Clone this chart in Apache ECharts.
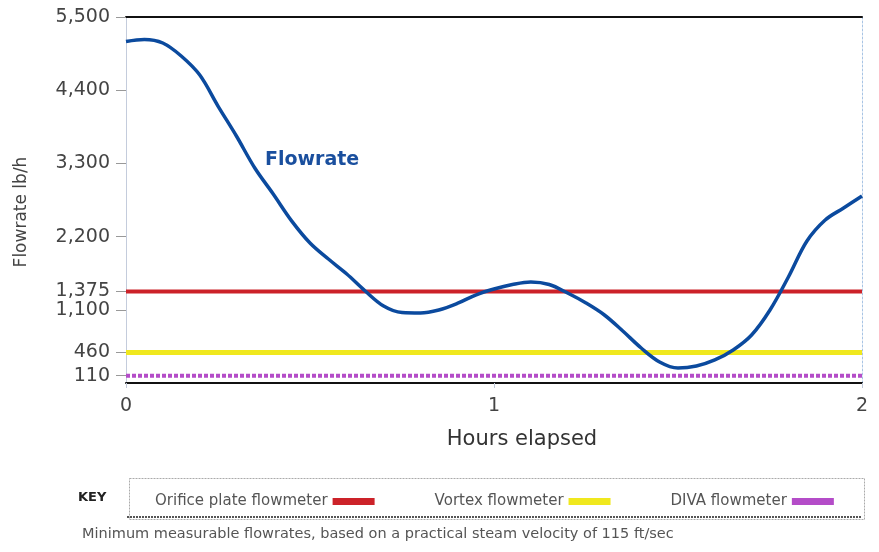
<!DOCTYPE html>
<html>
<head>
<meta charset="utf-8">
<script src="https://cdn.jsdelivr.net/npm/echarts@6/dist/echarts.min.js"></script>
<style>
html,body{margin:0;padding:0;background:#fff;}
#chart{width:879px;height:552px;}
</style>
</head>
<body>
<div id="chart"></div>
<script>
// Flowrate curve: hours elapsed and flowrate (lb/h), read every 0.05 h
const flowHours = [0, 0.05, 0.10, 0.15, 0.20, 0.25, 0.30, 0.35, 0.40, 0.45, 0.50, 0.55, 0.60, 0.65, 0.70, 0.75, 0.80, 0.85, 0.90, 0.95, 1.00, 1.05, 1.10, 1.15, 1.20, 1.25, 1.30, 1.35, 1.40, 1.45, 1.50, 1.55, 1.60, 1.65, 1.70, 1.75, 1.80, 1.85, 1.90, 1.95, 2.00];
const flowValues = [5132, 5162, 5109, 4914, 4631, 4162, 3712, 3231, 2840, 2437, 2104, 1863, 1638, 1383, 1157, 1059, 1052, 1097, 1195, 1322, 1413, 1480, 1518, 1480, 1352, 1202, 1022, 781, 526, 316, 225, 255, 346, 496, 721, 1097, 1593, 2130, 2449, 2630, 2810];

// Minimum measurable flowrates (lb/h)
const meterNames = ['Orifice plate flowmeter', 'Vortex flowmeter', 'DIVA flowmeter'];
const meterMinimums = [1375, 460, 110];
const hoursRange = [0, 2];

// Tick labels
const yTickValues = [110, 460, 1100, 1375, 2200, 3300, 4400, 5500];
const xTickValues = [0, 1, 2];

const FONT = '"DejaVu Sans", Verdana, sans-serif';
const meterColors = ['#cc2229', '#f0e81e', '#b44cc8'];

const chart = echarts.init(document.getElementById('chart'));

const series = [];
meterNames.forEach((name, i) => {
  series.push({
    name: name,
    type: 'line',
    xAxisIndex: 0, yAxisIndex: 0,
    data: hoursRange.map(h => [h, meterMinimums[i]]),
    symbol: 'none',
    silent: true,
    itemStyle: { color: meterColors[i] },
    lineStyle: {
      color: meterColors[i],
      width: i === 0 ? 4 : (i === 1 ? 5 : 4),
      type: i === 2 ? [4, 2] : 'solid'
    },
    z: 3
  });
});
series.push({
  name: 'Flowrate',
  type: 'line',
  xAxisIndex: 0, yAxisIndex: 0,
  data: flowHours.map((h, i) => [h, flowValues[i]]),
  symbol: 'none',
  smooth: 0.35,
  lineStyle: { color: '#0b4a9e', width: 3.5 },
  itemStyle: { color: '#0b4a9e' },
  z: 5
});

const option = {
  animation: false,
  backgroundColor: '#fff',
  grid: { left: 126, right: 17, top: 17, bottom: 169 },
  xAxis: [{
    type: 'value', min: 0, max: 2, interval: 1, position: 'bottom',
    name: 'Hours elapsed', nameLocation: 'middle', nameGap: 46,
    nameTextStyle: { fontFamily: FONT, fontSize: 21, color: '#333', padding: [0, 0, 0, 56] },
    axisLine: { show: true, onZero: false, lineStyle: { color: '#111', width: 2 } },
    axisTick: { show: true, inside: false, length: 5, lineStyle: { color: '#c0c8d8' } },
    axisLabel: { fontFamily: FONT, fontSize: 19, color: '#444', margin: 14,
      customValues: xTickValues },
    splitLine: { show: false }
  }, {
    type: 'value', min: 0, max: 2, position: 'top',
    axisLine: { show: true, onZero: false, lineStyle: { color: '#111', width: 2 } },
    axisTick: { show: false }, axisLabel: { show: false }, splitLine: { show: false }
  }],
  yAxis: [{
    type: 'value', min: 0, max: 5500, position: 'left',
    name: 'Flowrate lb/h', nameLocation: 'middle', nameGap: 96, nameRotate: 90,
    nameTextStyle: { fontFamily: FONT, fontSize: 17, color: '#444', padding: [0, 24, 0, 0] },
    axisLine: { show: true, onZero: false, lineStyle: { color: '#c4ccdc', width: 1 } },
    axisTick: { show: true, length: 10, customValues: yTickValues, lineStyle: { color: '#999' } },
    axisLabel: { fontFamily: FONT, fontSize: 19, color: '#444', margin: 16,
      customValues: yTickValues,
      formatter: v => v.toLocaleString('en-US') },
    splitLine: { show: false }
  }, {
    type: 'value', min: 0, max: 5500, position: 'right',
    axisLine: { show: true, onZero: false, lineStyle: { color: '#a8c4e4', width: 1, type: [2, 2] } },
    axisTick: { show: false }, axisLabel: { show: false }, splitLine: { show: false }
  }],
  legend: {
    show: true,
    data: meterNames,
    left: 150, top: 489,
    align: 'right',
    icon: 'rect',
    itemWidth: 42, itemHeight: 7,
    itemGap: 60,
    selectedMode: false,
    textStyle: { fontFamily: FONT, fontSize: 15, color: '#555' }
  },
  graphic: [
    { type: 'rect', left: 127, top: 476, shape: { width: 735, height: 41 },
      style: { fill: 'none', stroke: '#aaa', lineWidth: 1, lineDash: [2, 1] }, z: -1 },
    { type: 'line', shape: { x1: 127, y1: 517, x2: 862, y2: 517 },
      style: { stroke: '#555', lineWidth: 2, lineDash: [2, 1] } },
    { type: 'text', left: 78, top: 491, style: { text: 'KEY', font: 'bold 13px ' + FONT, fill: '#222' } },
    { type: 'text', left: 82, top: 527, style: { text: 'Minimum measurable flowrates, based on a practical steam velocity of 115 ft/sec', font: '14.5px ' + FONT, fill: '#555' } },
    { type: 'text', left: 265, top: 151, style: { text: 'Flowrate', font: 'bold 19px ' + FONT, fill: '#1a4f9e' } }
  ],
  series: series
};
chart.setOption(option);
</script>
</body>
</html>
